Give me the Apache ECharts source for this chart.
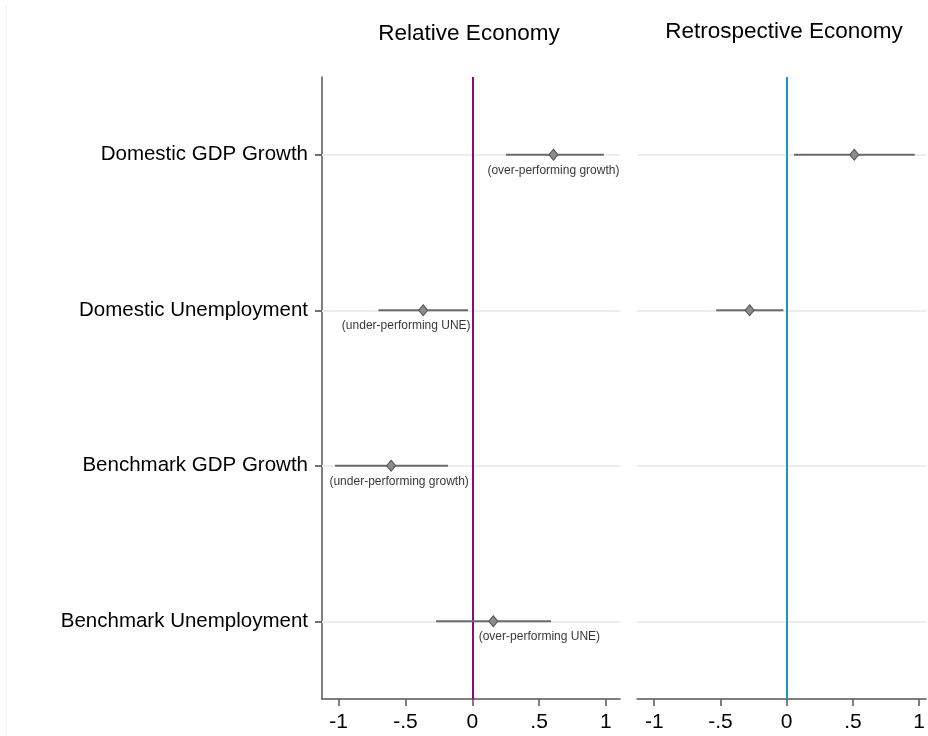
<!DOCTYPE html>
<html>
<head>
<meta charset="utf-8">
<script src="https://cdn.jsdelivr.net/npm/echarts@6/dist/echarts.min.js"></script>
<style>
  html, body { margin: 0; padding: 0; background: #fff; }
  #main { width: 928px; height: 736px; }
</style>
</head>
<body>
<div id="main"></div>
<script>
// rows, top to bottom
var categories = ['Domestic GDP Growth', 'Domestic Unemployment', 'Benchmark GDP Growth', 'Benchmark Unemployment'];
var panelTitles = ['Relative Economy', 'Retrospective Economy'];
var xTicks = [-1, -0.5, 0, 0.5, 1];

// Relative economy: estimate, lower, upper
var relEst = [0.607, -0.367, -0.607, 0.157];
var relLo = [0.252, -0.702, -1.026, -0.27];
var relHi = [0.984, -0.032, -0.182, 0.589];
var relNotes = ['(over-performing growth)', '(under-performing UNE)', '(under-performing growth)', '(over-performing UNE)'];
var relNoteX = [0.607, -0.494, -0.547, 0.502];

// Retrospective economy (only the domestic rows)
var retEst = [0.51, -0.28];
var retLo = [0.055, -0.532];
var retHi = [0.967, -0.025];

var font = '"Liberation Sans", Arial, Helvetica, sans-serif';

function tickFmt(v) {
    if (v === 0) return '0';
    return (v < 0 ? '-' : '') + String(Math.abs(v)).replace(/^0/, '');
}

function ciData(lo, hi) {
    return lo.map(function (l, i) { return [l, hi[i], i]; });
}
function ptData(est) {
    return est.map(function (e, i) { return [e, i]; });
}

function ciSeries(idx, lo, hi) {
    return {
        type: 'custom',
        xAxisIndex: idx, yAxisIndex: idx,
        z: 6,
        encode: { x: [0, 1], y: 2 },
        data: ciData(lo, hi),
        renderItem: function (params, api) {
            var a = api.coord([api.value(0), api.value(2)]);
            var b = api.coord([api.value(1), api.value(2)]);
            return {
                type: 'line',
                shape: { x1: a[0], y1: a[1], x2: b[0], y2: b[1] },
                style: { stroke: '#6b6b6b', lineWidth: 2 }
            };
        }
    };
}

function pointSeries(idx, est) {
    return {
        type: 'scatter',
        xAxisIndex: idx, yAxisIndex: idx,
        z: 7,
        symbol: 'diamond',
        symbolSize: [9, 11],
        itemStyle: { color: '#8c8c8c', borderColor: '#555', borderWidth: 1, opacity: 1 },
        data: ptData(est)
    };
}

function guideSeries(idx, zeroColor) {
    return {
        type: 'scatter',
        xAxisIndex: idx, yAxisIndex: idx,
        z: 1,
        data: [],
        markLine: {
            z: 1,
            silent: true,
            symbol: 'none',
            animation: false,
            label: { show: false },
            data: categories.map(function (c) {
                return { yAxis: c, lineStyle: { color: '#e8eef2', width: 2, type: 'solid' } };
            }).concat([{ xAxis: 0, lineStyle: { color: zeroColor, width: 2, type: 'solid' } }])
        }
    };
}

function xAxisOf(idx, min, max) {
    return {
        type: 'value', gridIndex: idx, min: min, max: max,
        axisLine: { show: true, onZero: false, lineStyle: { color: '#555', width: 1.5 } },
        axisTick: { show: true, length: 7, customValues: xTicks, lineStyle: { color: '#555', width: 1.5 } },
        axisLabel: { customValues: xTicks, formatter: tickFmt, color: '#000', fontSize: 21, fontFamily: font, margin: 13 },
        splitLine: { show: false }
    };
}

var option = {
    backgroundColor: '#fff',
    animation: false,
    title: [
        { text: panelTitles[0], left: 464, top: 17, textAlign: 'center',
          textStyle: { fontSize: 22.5, fontWeight: 'normal', color: '#000', fontFamily: font } },
        { text: panelTitles[1], left: 779, top: 15, textAlign: 'center',
          textStyle: { fontSize: 22.5, fontWeight: 'normal', color: '#000', fontFamily: font } }
    ],
    graphic: [{
        type: 'line', shape: { x1: 6, y1: 5, x2: 6, y2: 736 },
        style: { stroke: '#e6eded', lineWidth: 1 }
    }],
    grid: [
        { left: 322, top: 77, width: 298, height: 622 },
        { left: 637, top: 77, width: 291, height: 622 }
    ],
    xAxis: [xAxisOf(0, -1.124, 1.105), xAxisOf(1, -1.13, 1.052)],
    yAxis: [
        {
            type: 'category', gridIndex: 0, data: categories, inverse: true,
            axisLine: { show: true, onZero: false, lineStyle: { color: '#555', width: 1.5 } },
            axisTick: { show: true, alignWithLabel: true, length: 7, lineStyle: { color: '#444', width: 1.5 } },
            axisLabel: { color: '#000', fontSize: 20.5, fontFamily: font, margin: 14 },
            splitLine: { show: false }
        },
        {
            type: 'category', gridIndex: 1, data: categories, inverse: true,
            axisLine: { show: false }, axisTick: { show: false }, axisLabel: { show: false },
            splitLine: { show: false }
        }
    ],
    series: [
        guideSeries(0, '#8b0a8b'),
        guideSeries(1, '#1a96cc'),
        ciSeries(0, relLo, relHi),
        ciSeries(1, retLo, retHi),
        pointSeries(0, relEst),
        pointSeries(1, retEst),
        {
            type: 'scatter',
            xAxisIndex: 0, yAxisIndex: 0,
            z: 8,
            symbolSize: 1,
            itemStyle: { color: 'rgba(0,0,0,0)' },
            label: {
                show: true, position: 'bottom', distance: 9,
                color: '#000', fontSize: 12, fontFamily: font,
                formatter: function (p) { return relNotes[p.dataIndex]; }
            },
            data: relNoteX.map(function (x, i) { return [x, i]; })
        }
    ]
};

echarts.init(document.getElementById('main')).setOption(option);
</script>
</body>
</html>
